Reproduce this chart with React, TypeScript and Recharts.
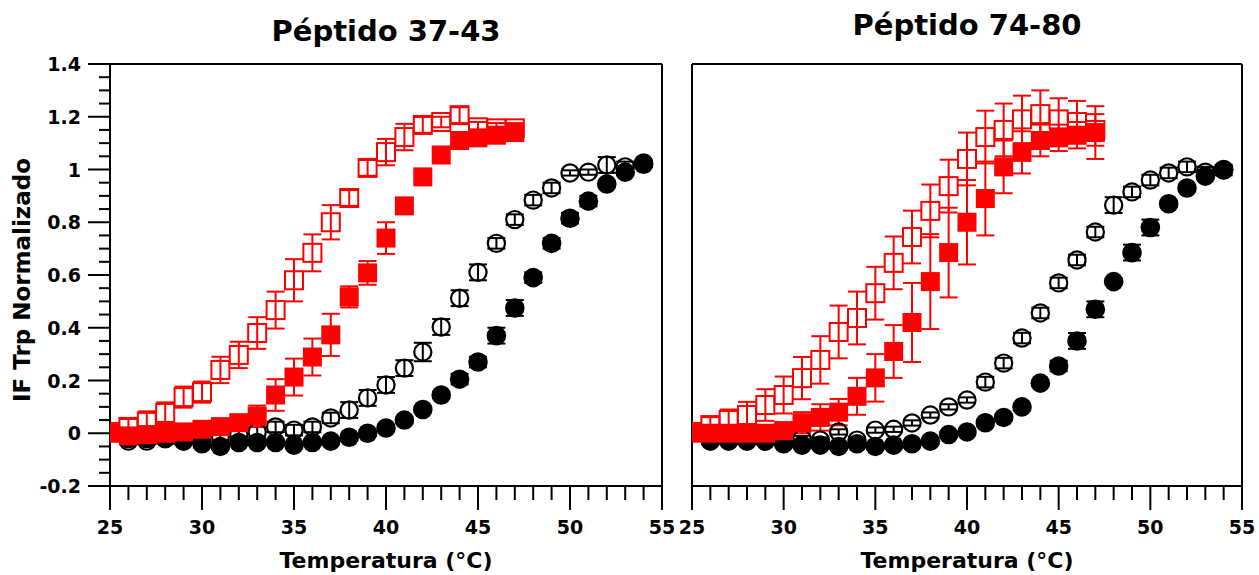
import React from 'react';
import { ScatterChart, Scatter, XAxis, YAxis, ErrorBar, ReferenceLine } from 'recharts';

// ---------- data ----------
const TEMP_RED = [25, 26, 27, 28, 29, 30, 31, 32, 33, 34, 35, 36, 37, 38, 39, 40, 41, 42, 43, 44, 45, 46, 47];
const TEMP_BLACK = [26, 27, 28, 29, 30, 31, 32, 33, 34, 35, 36, 37, 38, 39, 40, 41, 42, 43, 44, 45, 46, 47, 48, 49, 50, 51, 52, 53, 54];

// Péptido 37-43
const L_RED_OPEN = [0.005, 0.024, 0.043, 0.077, 0.137, 0.156, 0.24, 0.297, 0.38, 0.467, 0.58, 0.684, 0.8, 0.892, 1.006, 1.066, 1.123, 1.169, 1.18, 1.206, 1.16, 1.156, 1.156];
const L_RED_OPEN_ERR = [0.02, 0.03, 0.04, 0.04, 0.04, 0.04, 0.05, 0.05, 0.06, 0.07, 0.08, 0.07, 0.065, 0.03, 0.03, 0.05, 0.05, 0.03, 0.02, 0.03, 0.02, 0.02, 0.02];
const L_RED_FILLED = [0.0, -0.01, -0.005, 0.0, 0.005, 0.015, 0.025, 0.04, 0.065, 0.145, 0.213, 0.289, 0.373, 0.517, 0.608, 0.74, 0.862, 0.972, 1.055, 1.11, 1.12, 1.13, 1.14];
const L_RED_FILLED_ERR = [0.02, 0.02, 0.02, 0.02, 0.02, 0.02, 0.03, 0.03, 0.04, 0.06, 0.07, 0.07, 0.08, 0.04, 0.045, 0.06, 0.02, 0.02, 0.03, 0.02, 0.02, 0.02, 0.02];
const L_BLACK_OPEN = [-0.03, -0.03, -0.02, -0.02, -0.015, -0.01, -0.005, 0.005, 0.024, 0.012, 0.024, 0.058, 0.088, 0.134, 0.183, 0.247, 0.308, 0.403, 0.512, 0.61, 0.72, 0.81, 0.884, 0.93, 0.987, 0.99, 1.017, 1.01, 1.025];
const L_BLACK_OPEN_ERR = [0.01, 0.01, 0.02, 0.02, 0.02, 0.02, 0.02, 0.02, 0.02, 0.02, 0.02, 0.02, 0.03, 0.03, 0.03, 0.03, 0.035, 0.03, 0.03, 0.03, 0.02, 0.02, 0.02, 0.02, 0.01, 0.01, 0.03, 0.02, 0.01];
const L_BLACK_FILLED = [-0.02, -0.02, -0.02, -0.03, -0.04, -0.05, -0.035, -0.035, -0.035, -0.045, -0.035, -0.03, -0.015, 0.0, 0.02, 0.05, 0.09, 0.145, 0.205, 0.27, 0.37, 0.475, 0.59, 0.72, 0.815, 0.88, 0.945, 0.99, 1.02];
const L_BLACK_FILLED_ERR = [0.01, 0.01, 0.01, 0.01, 0.01, 0.01, 0.01, 0.01, 0.01, 0.01, 0.01, 0.01, 0.01, 0.01, 0.01, 0.01, 0.01, 0.01, 0.02, 0.02, 0.03, 0.03, 0.02, 0.02, 0.02, 0.02, 0.01, 0.01, 0.01];

// Péptido 74-80
const R_RED_OPEN = [0.005, 0.031, 0.05, 0.069, 0.107, 0.145, 0.209, 0.278, 0.384, 0.437, 0.531, 0.646, 0.744, 0.843, 0.937, 1.04, 1.123, 1.15, 1.19, 1.21, 1.19, 1.18, 1.15];
const R_RED_OPEN_ERR = [0.02, 0.03, 0.04, 0.05, 0.06, 0.07, 0.08, 0.09, 0.1, 0.1, 0.1, 0.1, 0.1, 0.1, 0.1, 0.1, 0.1, 0.1, 0.09, 0.09, 0.08, 0.08, 0.06];
const R_RED_FILLED = [0.0, 0.0, 0.0, 0.0, 0.0, 0.01, 0.04, 0.06, 0.08, 0.14, 0.21, 0.31, 0.42, 0.575, 0.685, 0.8, 0.89, 1.01, 1.065, 1.11, 1.12, 1.13, 1.14];
const R_RED_FILLED_ERR = [0.02, 0.02, 0.02, 0.02, 0.03, 0.03, 0.04, 0.05, 0.05, 0.07, 0.09, 0.1, 0.15, 0.18, 0.17, 0.16, 0.14, 0.1, 0.08, 0.06, 0.05, 0.05, 0.1];
const R_BLACK_OPEN = [-0.02, -0.02, -0.02, -0.02, -0.01, -0.02, -0.026, 0.005, -0.026, 0.012, 0.015, 0.039, 0.069, 0.1, 0.126, 0.194, 0.266, 0.361, 0.456, 0.57, 0.657, 0.763, 0.865, 0.915, 0.96, 0.987, 1.01, 0.99, 0.998];
const R_BLACK_OPEN_ERR = [0.01, 0.01, 0.01, 0.01, 0.01, 0.01, 0.01, 0.01, 0.01, 0.01, 0.01, 0.01, 0.01, 0.01, 0.01, 0.02, 0.02, 0.02, 0.02, 0.02, 0.02, 0.02, 0.03, 0.02, 0.02, 0.02, 0.02, 0.02, 0.02];
const R_BLACK_FILLED = [-0.03, -0.03, -0.03, -0.03, -0.04, -0.045, -0.045, -0.05, -0.04, -0.05, -0.045, -0.04, -0.03, -0.005, 0.005, 0.04, 0.06, 0.1, 0.19, 0.255, 0.35, 0.47, 0.575, 0.685, 0.78, 0.87, 0.93, 0.975, 1.0];
const R_BLACK_FILLED_ERR = [0.01, 0.01, 0.01, 0.01, 0.01, 0.01, 0.01, 0.01, 0.01, 0.01, 0.01, 0.01, 0.01, 0.01, 0.01, 0.01, 0.01, 0.01, 0.01, 0.02, 0.03, 0.03, 0.01, 0.03, 0.03, 0.01, 0.01, 0.01, 0.01];

const X_TICKS = [25, 26, 27, 28, 29, 30, 31, 32, 33, 34, 35, 36, 37, 38, 39, 40, 41, 42, 43, 44, 45, 46, 47, 48, 49, 50, 51, 52, 53, 54, 55];
const Y_TICKS = [-0.2, -0.15, -0.1, -0.05, 0, 0.05, 0.1, 0.15, 0.2, 0.25, 0.3, 0.35, 0.4, 0.45, 0.5, 0.55, 0.6, 0.65, 0.7, 0.75, 0.8, 0.85, 0.9, 0.95, 1, 1.05, 1.1, 1.15, 1.2, 1.25, 1.3, 1.35, 1.4];

const TITLES = ['Péptido 37-43', 'Péptido 74-80'];
const X_LABEL = 'Temperatura (°C)';
const Y_LABEL = 'IF Trp Normalizado';

const RED = '#ff0000';
const BLACK = '#000000';
const FONT = '"DejaVu Sans", Verdana, sans-serif';
const X_MIN = 25;

const build = (temps: number[], vals: number[], errs: number[]) =>
  temps.map((t, i) => ({ t, v: vals[i], e: errs[i] }));

// ---------- shapes (clipped at the plot's left edge) ----------
const openSquare = (clipLeft: number) => (p: any) => {
  const x0 = Math.max(p.cx - 9, clipLeft);
  return <rect x={x0} y={p.cy - 9} width={p.cx + 9 - x0} height={18} fill="none" stroke={RED} strokeWidth={2} />;
};
const filledSquare = (clipLeft: number) => (p: any) => {
  const x0 = Math.max(p.cx - 9.5, clipLeft);
  return <rect x={x0} y={p.cy - 9.5} width={p.cx + 9.5 - x0} height={19} fill={RED} stroke="none" />;
};
const openCircle = () => (p: any) => (
  <circle cx={p.cx} cy={p.cy} r={8.6} fill="none" stroke={BLACK} strokeWidth={2.2} />
);
const filledCircle = () => (p: any) => <circle cx={p.cx} cy={p.cy} r={9.8} fill={BLACK} stroke="none" />;
const noShape = () => <g />;

// ---------- ticks ----------
const XTick = (props: any) => {
  const { x, y, payload } = props;
  const v = payload.value;
  const major = v % 5 === 0;
  return (
    <g>
      <line x1={x} y1={y} x2={x} y2={y + (major ? 24 : 14)} stroke={BLACK} strokeWidth={2} />
      {major && (
        <text x={x} y={y + 41} textAnchor="middle" dominantBaseline="central" fontFamily={FONT} fontWeight="bold" fontSize={19} fill={BLACK}>
          {v}
        </text>
      )}
    </g>
  );
};

const YTick = (props: any) => {
  const { x, y, payload } = props;
  const v = payload.value;
  const major = Math.abs(Math.round(v * 5) - v * 5) < 1e-6;
  return (
    <g>
      <line x1={x} y1={y} x2={x - (major ? 22 : 11)} y2={y} stroke={BLACK} strokeWidth={2} />
      {major && (
        <text x={x - 29} y={y} textAnchor="end" dominantBaseline="central" fontFamily={FONT} fontWeight="bold" fontSize={19} fill={BLACK}>
          {String(Math.round(v * 10) / 10)}
        </text>
      )}
    </g>
  );
};

type Series = { data: any[]; shape: any; color: string };

const Panel = ({ width, yWidth, right, showYTicks, series }: { width: number; yWidth: number; right: number; showYTicks: boolean; series: Series[] }) => (
  <ScatterChart width={width} height={575} margin={{ top: 64, right, bottom: 0, left: 0 }} style={{ overflow: 'visible' }}>
    <XAxis
      type="number"
      dataKey="t"
      domain={[25, 55]}
      ticks={X_TICKS}
      interval={0}
      allowDataOverflow
      tickSize={0}
      tickMargin={0}
      tickLine={false}
      tick={<XTick />}
      axisLine={{ stroke: BLACK, strokeWidth: 2 }}
      height={89}
    />
    <YAxis
      type="number"
      dataKey="v"
      domain={[-0.2, 1.4]}
      ticks={Y_TICKS}
      interval={0}
      allowDataOverflow
      tickSize={0}
      tickMargin={0}
      tickLine={false}
      tick={showYTicks ? <YTick /> : false}
      axisLine={{ stroke: BLACK, strokeWidth: 2 }}
      width={yWidth}
    />
    <ReferenceLine y={1.4} stroke={BLACK} strokeWidth={2} />
    <ReferenceLine x={55} stroke={BLACK} strokeWidth={2} />
    {series.flatMap((s, i) => [
      <Scatter key={`m${i}`} data={s.data} shape={s.shape} isAnimationActive={false} />,
      <Scatter key={`e${i}`} data={s.data.filter((d) => d.t > X_MIN)} shape={noShape} isAnimationActive={false}>
        <ErrorBar dataKey="e" direction="y" width={9} stroke={s.color} strokeWidth={2} isAnimationActive={false} />
      </Scatter>,
    ])}
  </ScatterChart>
);

const textStyle = (x: number, y: number, size: number, rotate = 0): React.CSSProperties => ({
  position: 'absolute',
  left: x,
  top: y,
  transform: `translate(-50%, -50%) rotate(${rotate}deg)`,
  fontFamily: FONT,
  fontWeight: 'bold',
  fontSize: size,
  whiteSpace: 'nowrap',
  color: BLACK,
  lineHeight: 1,
});

export default function App() {
  const LP = 110; // left panel plot left (svg coords)
  const RP = 24; // right panel plot left (svg coords)
  const left: Series[] = [
    { data: build(TEMP_BLACK, L_BLACK_FILLED, L_BLACK_FILLED_ERR), shape: filledCircle(), color: BLACK },
    { data: build(TEMP_BLACK, L_BLACK_OPEN, L_BLACK_OPEN_ERR), shape: openCircle(), color: BLACK },
    { data: build(TEMP_RED, L_RED_FILLED, L_RED_FILLED_ERR), shape: filledSquare(LP), color: RED },
    { data: build(TEMP_RED, L_RED_OPEN, L_RED_OPEN_ERR), shape: openSquare(LP), color: RED },
  ];
  const right: Series[] = [
    { data: build(TEMP_BLACK, R_BLACK_FILLED, R_BLACK_FILLED_ERR), shape: filledCircle(), color: BLACK },
    { data: build(TEMP_BLACK, R_BLACK_OPEN, R_BLACK_OPEN_ERR), shape: openCircle(), color: BLACK },
    { data: build(TEMP_RED, R_RED_FILLED, R_RED_FILLED_ERR), shape: filledSquare(RP), color: RED },
    { data: build(TEMP_RED, R_RED_OPEN, R_RED_OPEN_ERR), shape: openSquare(RP), color: RED },
  ];
  return (
    <div style={{ position: 'absolute', left: 0, top: 0, width: 1259, height: 575, background: '#fff', overflow: 'hidden' }}>
      <div style={{ position: 'absolute', left: 0, top: 0 }}>
        <Panel width={676} yWidth={LP} right={14} showYTicks series={left} />
      </div>
      <div style={{ position: 'absolute', left: 668, top: 0 }}>
        <Panel width={591} yWidth={RP} right={17} showYTicks={false} series={right} />
      </div>
      <div style={textStyle(386, 31, 29)}>{TITLES[0]}</div>
      <div style={textStyle(967, 25, 29)}>{TITLES[1]}</div>
      <div style={textStyle(386, 561, 22)}>{X_LABEL}</div>
      <div style={textStyle(967, 561, 22)}>{X_LABEL}</div>
      <div style={textStyle(22, 280, 23, -90)}>{Y_LABEL}</div>
    </div>
  );
}
